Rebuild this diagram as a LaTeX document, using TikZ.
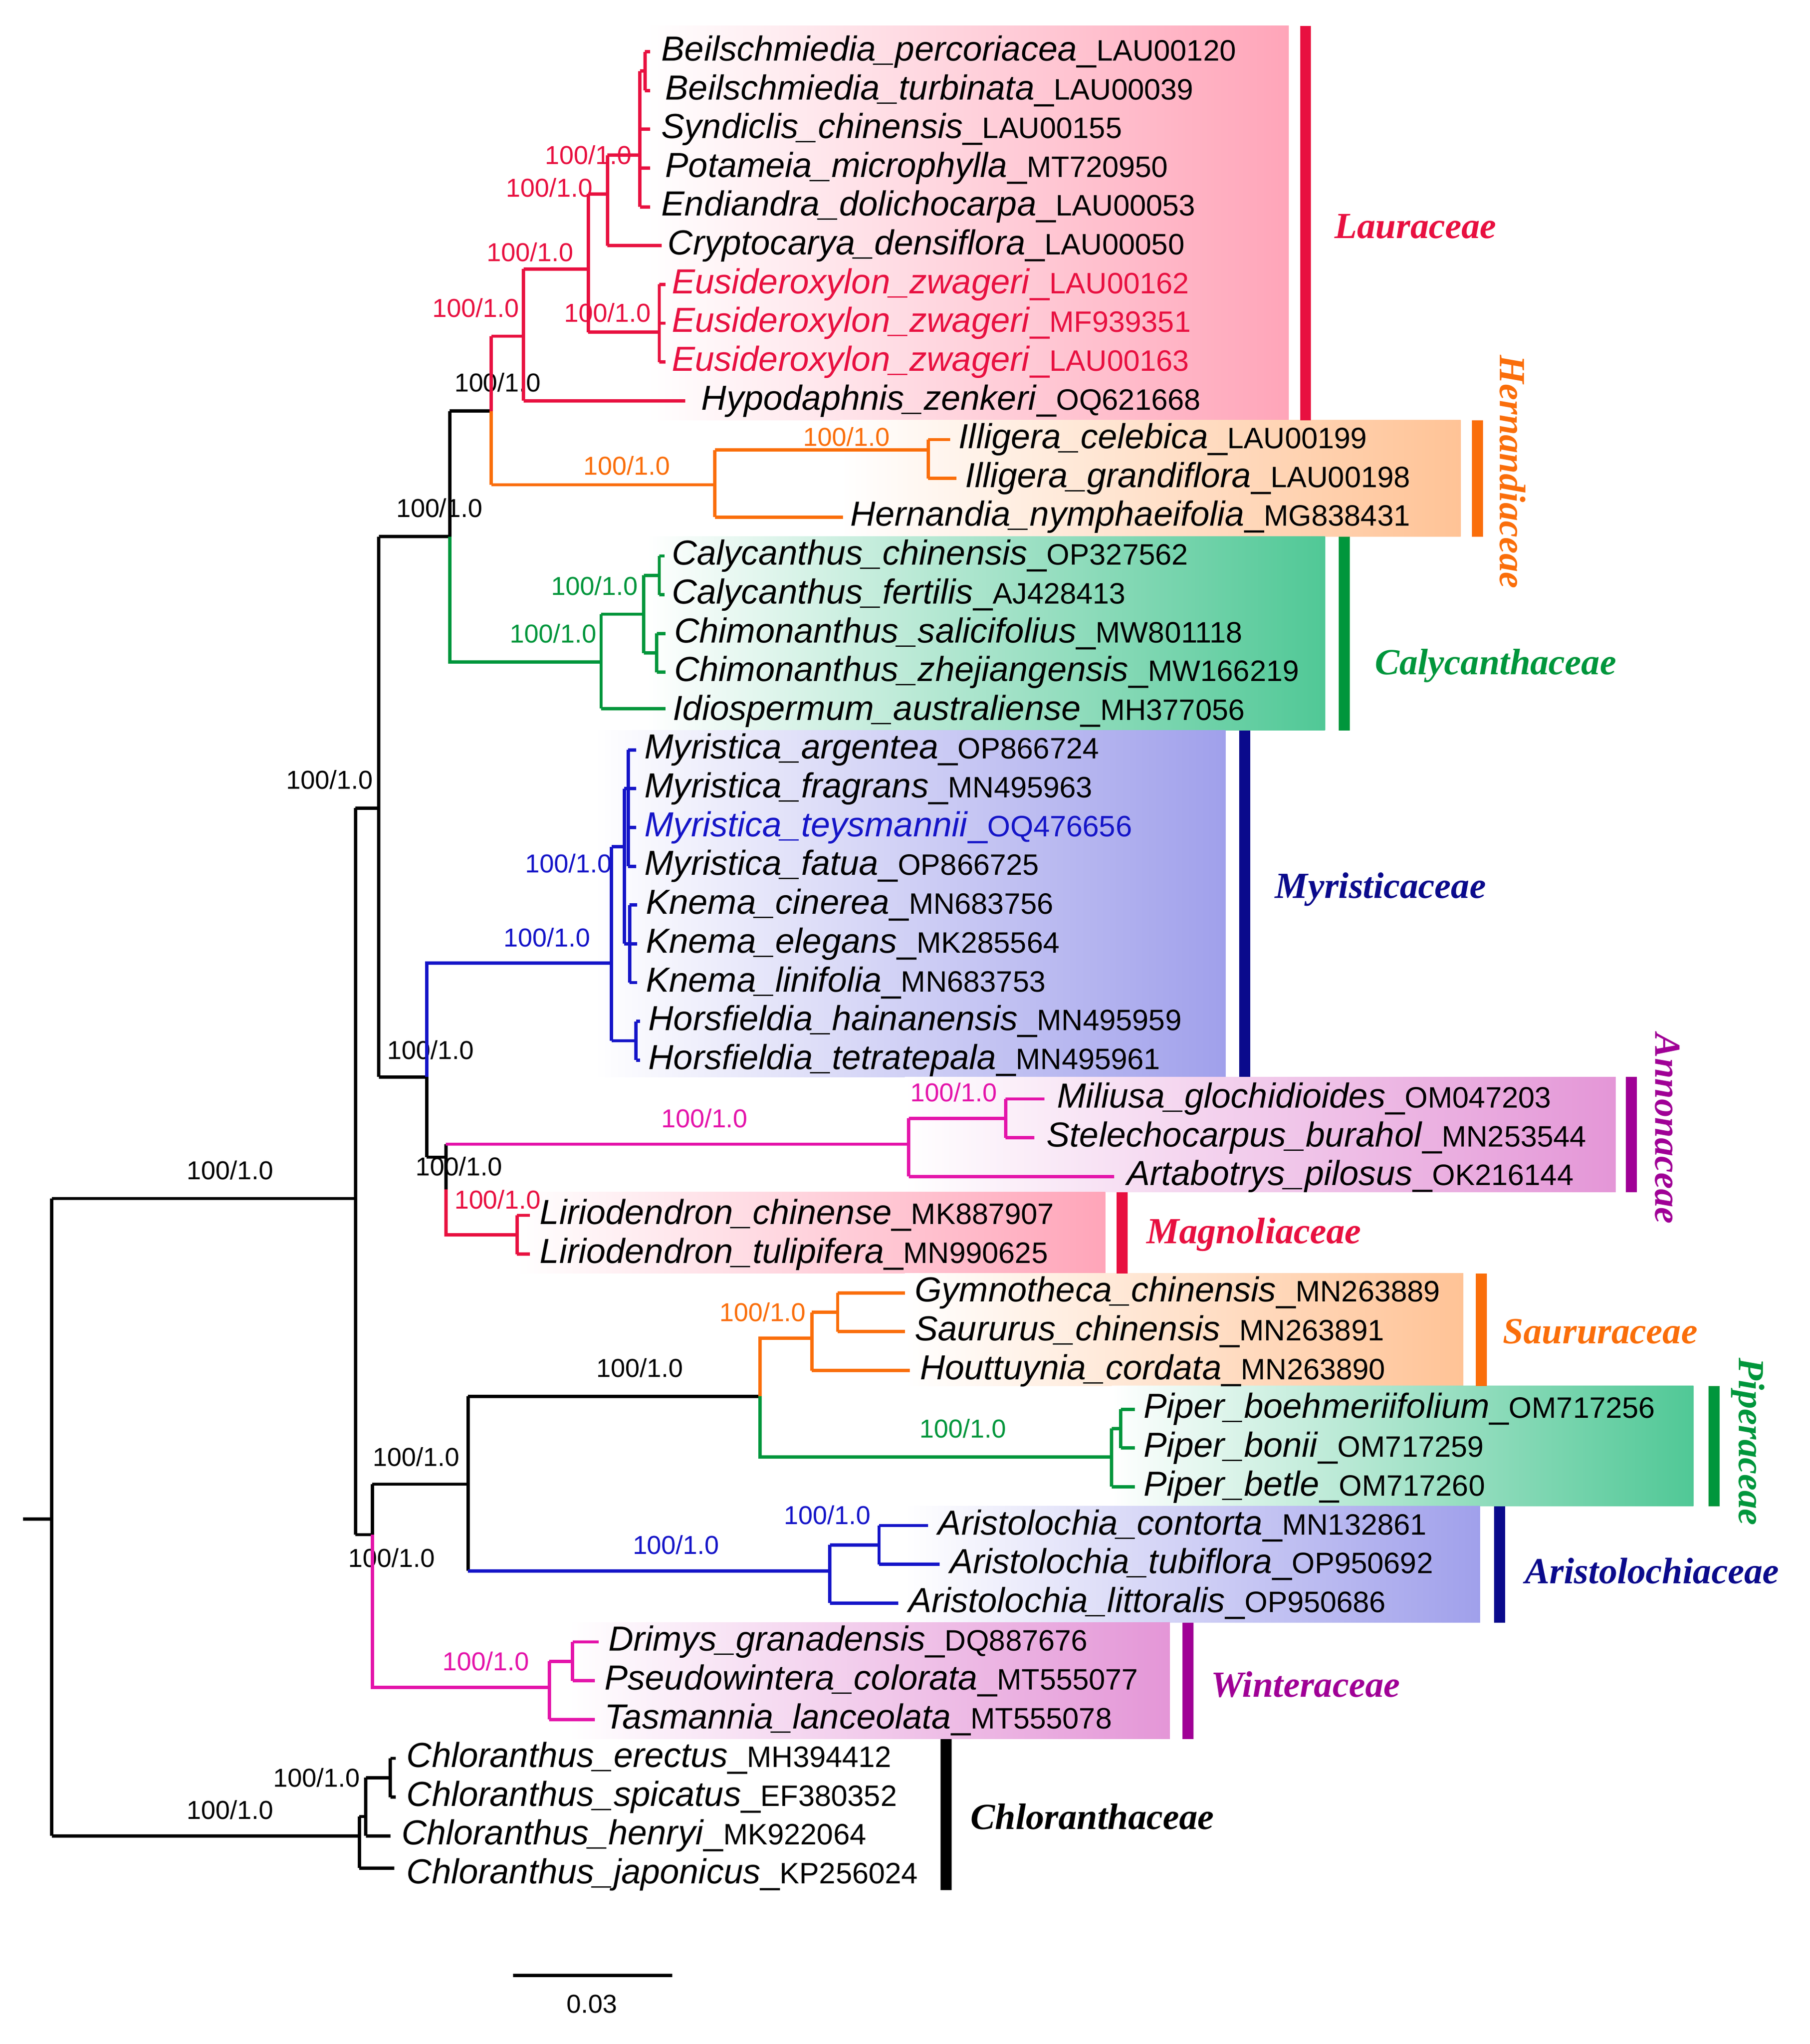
\documentclass[tikz,border=0pt]{standalone}
\usepackage{fontspec}
\setmainfont{Liberation Sans}
\newfontfamily\famfont{Liberation Serif}
\definecolor{cR}{RGB}{232,16,64}
\definecolor{cO}{RGB}{250,110,10}
\definecolor{cG}{RGB}{0,150,60}
\definecolor{cB}{RGB}{20,20,200}
\definecolor{cN}{RGB}{10,10,140}
\definecolor{cM}{RGB}{228,20,170}
\definecolor{cP}{RGB}{160,0,150}
\definecolor{bR}{RGB}{255,165,185}
\definecolor{bO}{RGB}{255,195,150}
\definecolor{bG}{RGB}{80,200,150}
\definecolor{bB}{RGB}{160,160,235}
\definecolor{bM}{RGB}{228,150,215}
\tikzset{br/.style={line width=0.72pt},
 leaf/.style={anchor=west,inner sep=0pt,font=\fontsize{7.65}{8}\selectfont},
 sup/.style={inner sep=0pt,font=\fontsize{5.7}{6}\selectfont},
 fam/.style={inner sep=0pt,font=\famfont\bfseries\itshape\fontsize{8.1}{9}\selectfont},
 bar/.style={line width=2.4pt}}
\newcommand\hb[4]{\draw[br,#4] (#1,#3) -- (#2,#3);}
\newcommand\vb[4]{\draw[br,#4] (#1,#2) -- (#1,#3);}
\newcommand\lf[6]{\node[leaf,text=#6] (#1) at (#2,#3) {\textit{#4}\_{\fontsize{6.5}{7}\selectfont #5}};}
\begin{document}
\begin{tikzpicture}[x=0.01cm,y=-0.01cm]
\useasboundingbox (0,0) rectangle (1400,1581);
% boxes
\shade[left color=white,right color=bR] (500,20) rectangle (997,325);
\shade[left color=white,right color=bO] (650,325) rectangle (1130,415);
\shade[left color=white,right color=bG] (500,415) rectangle (1025,565);
\shade[left color=white,right color=bB] (460,565) rectangle (948,833);
\shade[left color=white,right color=bM] (700,833) rectangle (1250,922);
\shade[left color=white,right color=bR] (400,922) rectangle (855,985);
\shade[left color=white,right color=bO] (700,985) rectangle (1132,1072);
\shade[left color=white,right color=bG] (860,1072) rectangle (1310,1165);
\shade[left color=white,right color=bB] (700,1165) rectangle (1145,1255);
\shade[left color=white,right color=bM] (440,1255) rectangle (905,1345);
% bars and family labels
\draw[bar,cR] (1010,20) -- (1010,325); \node[fam,text=cR] (fLau) at (1095,175) {Lauraceae};
\draw[bar,cO] (1143,325) -- (1143,415); \node[fam,text=cO,rotate=-90] (fHer) at (1170,365) {Hernandiaceae};
\draw[bar,cG] (1040,415) -- (1040,565); \node[fam,text=cG] (fCal) at (1157,515) {Calycanthaceae};
\draw[bar,cN] (963,565) -- (963,833); \node[fam,text=cN] (fMyr) at (1068,688) {Myristicaceae};
\draw[bar,cP] (1262,833) -- (1262,922); \node[fam,text=cP,rotate=-90] (fAnn) at (1290,873) {Annonaceae};
\draw[bar,cR] (868,922) -- (868,985); \node[fam,text=cR] (fMag) at (970,955) {Magnoliaceae};
\draw[bar,cO] (1146,985) -- (1146,1072); \node[fam,text=cO] (fSau) at (1238,1030) {Saururaceae};
\draw[bar,cG] (1326,1072) -- (1326,1165); \node[fam,text=cG,rotate=-90] (fPip) at (1352,1115) {Piperaceae};
\draw[bar,cN] (1160,1165) -- (1160,1255); \node[fam,text=cN] (fAri) at (1278,1215) {Aristolochiaceae};
\draw[bar,cP] (919,1255) -- (919,1345); \node[fam,text=cP] (fWin) at (1010,1303) {Winteraceae};
\draw[bar,black] (732,1345) -- (732,1462); \node[fam] (fChl) at (845,1405) {Chloranthaceae};
% root and backbone (black)
\hb{18}{40}{1175}{black}
\vb{40}{927}{1420}{black}
\hb{40}{275}{927}{black} \node[sup] (s1) at (178,905) {100/1.0};
\hb{40}{278}{1420}{black} \node[sup] (s2) at (178,1400) {100/1.0};
\vb{275}{625}{1187}{black}
\hb{275}{293}{625}{black} \node[sup] (s3) at (255,603) {100/1.0};
\hb{275}{288}{1187}{black}
\vb{293}{415}{833}{black} \node[sup] (s4) at (340,393) {100/1.0};
\hb{293}{348}{415}{black}
\hb{293}{330}{833}{black}
\vb{348}{318}{512}{black}
\hb{348}{380}{318}{black} \node[sup] (s5) at (385,296) {100/1.0};
% Lauraceae + Hernandiaceae
\hb{380}{405}{260}{cR} \vb{380}{260}{318}{cR} \vb{380}{318}{375}{cO}
\node[sup,text=cR] (s6) at (368,238) {100/1.0};
\hb{380}{553}{375}{cO} \node[sup,text=cO] (s7) at (485,360) {100/1.0};
\vb{405}{208}{310}{cR} \node[sup,text=cR] (s8) at (410,195) {100/1.0};
\hb{405}{455}{208}{cR} \hb{405}{530}{310}{cR}
\vb{455}{150}{257}{cR} \node[sup,text=cR] (s9) at (425,145) {100/1.0};
\hb{455}{470}{150}{cR} \hb{455}{510}{257}{cR}
\vb{470}{120}{190}{cR} \node[sup,text=cR] (s10) at (455,120) {100/1.0};
\hb{470}{495}{120}{cR} \hb{470}{512}{190}{cR}
\vb{495}{55}{160}{cR}
\hb{495}{499}{55}{cR} \vb{499}{40}{70}{cR} \hb{499}{503}{40}{cR} \hb{499}{503}{70}{cR}
\hb{495}{503}{100}{cR} \hb{495}{503}{130}{cR} \hb{495}{503}{160}{cR}
\vb{510}{220}{280}{cR} \node[sup,text=cR] (s11) at (470,242) {100/1.0};
\hb{510}{515}{220}{cR} \hb{510}{515}{250}{cR} \hb{510}{515}{280}{cR}
\vb{553}{348}{400}{cO} \hb{553}{718}{348}{cO} \hb{553}{652}{400}{cO}
\vb{718}{340}{370}{cO} \node[sup,text=cO] (s12) at (655,338) {100/1.0};
\hb{718}{735}{340}{cO} \hb{718}{740}{370}{cO}
% Calycanthaceae
\draw[br,cG] (348,415) -- (348,512) -- (465,512);
\vb{465}{475}{548}{cG} \node[sup,text=cG] (s13) at (428,490) {100/1.0};
\hb{465}{498}{475}{cG} \hb{465}{515}{548}{cG}
\vb{498}{445}{505}{cG} \node[sup,text=cG] (s14) at (460,453) {100/1.0};
\hb{498}{510}{445}{cG} \hb{498}{508}{505}{cG}
\vb{510}{430}{460}{cG} \hb{510}{514}{430}{cG} \hb{510}{514}{460}{cG}
\vb{508}{490}{520}{cG} \hb{508}{515}{490}{cG} \hb{508}{515}{520}{cG}
% node 330
\vb{330}{745}{895}{black} \node[sup] (s15) at (333,812) {100/1.0};
\hb{330}{345}{895}{black}
% Myristicaceae
\draw[br,cB] (330,833) -- (330,745) -- (473,745); \node[sup,text=cB] (s16) at (423,725) {100/1.0};
\vb{473}{655}{805}{cB} \hb{473}{483}{655}{cB} \hb{473}{492}{805}{cB}
\vb{483}{610}{730}{cB} \node[sup,text=cB] (s17) at (440,668) {100/1.0};
\hb{483}{486}{610}{cB} \hb{483}{487}{730}{cB}
\vb{486}{580}{670}{cB}
\foreach \yy in {580,610,640,670} {\hb{486}{492}{\yy}{cB}}
\vb{487}{700}{760}{cB}
\foreach \yy in {700,730,760} {\hb{487}{493}{\yy}{cB}}
\vb{492}{790}{820}{cB} \hb{492}{495}{790}{cB} \hb{492}{495}{820}{cB}
% Annonaceae + Magnoliaceae
\vb{345}{885}{955}{black} \node[sup] (s18) at (355,902) {100/1.0};
\hb{345}{703}{885}{cM} \node[sup,text=cM] (s19) at (545,865) {100/1.0};
\vb{703}{865}{910}{cM} \hb{703}{778}{865}{cM} \hb{703}{862}{910}{cM}
\vb{778}{850}{880}{cM} \node[sup,text=cM] (s20) at (738,845) {100/1.0};
\hb{778}{808}{850}{cM} \hb{778}{800}{880}{cM}
\draw[br,cR] (345,920) -- (345,955) -- (400,955); \node[sup,text=cR] (s21) at (385,928) {100/1.0};
\vb{400}{940}{970}{cR} \hb{400}{410}{940}{cR} \hb{400}{410}{970}{cR}
% lower clade
\vb{288}{1148}{1187}{black} \node[sup] (s22) at (322,1127) {100/1.0};
\node[sup] (s23) at (303,1205) {100/1.0};
\draw[br,cM] (288,1187) -- (288,1305) -- (425,1305);
\hb{288}{362}{1148}{black}
\vb{362}{1080}{1215}{black} \node[sup] (s24) at (495,1058) {100/1.0};
\hb{362}{588}{1080}{black}
\hb{362}{642}{1215}{cB} \node[sup,text=cB] (s25) at (523,1195) {100/1.0};
\draw[br,cO] (588,1080) -- (588,1035) -- (628,1035); \node[sup,text=cO] (s26) at (590,1015) {100/1.0};
\draw[br,cG] (588,1080) -- (588,1127) -- (860,1127); \node[sup,text=cG] (s27) at (745,1105) {100/1.0};
\vb{628}{1015}{1060}{cO} \hb{628}{648}{1015}{cO} \hb{628}{704}{1060}{cO}
\vb{648}{1000}{1030}{cO} \hb{648}{700}{1000}{cO} \hb{648}{700}{1030}{cO}
\vb{860}{1105}{1150}{cG} \hb{860}{867}{1105}{cG} \hb{860}{878}{1150}{cG}
\vb{867}{1090}{1120}{cG} \hb{867}{878}{1090}{cG} \hb{867}{878}{1120}{cG}
\vb{642}{1195}{1240}{cB} \node[sup,text=cB] (s28) at (640,1172) {100/1.0};
\hb{642}{680}{1195}{cB} \hb{642}{695}{1240}{cB}
\vb{680}{1180}{1210}{cB} \hb{680}{718}{1180}{cB} \hb{680}{727}{1210}{cB}
\vb{425}{1285}{1330}{cM} \node[sup,text=cM] (s29) at (376,1285) {100/1.0};
\hb{425}{443}{1285}{cM} \hb{425}{460}{1330}{cM}
\vb{443}{1270}{1300}{cM} \hb{443}{463}{1270}{cM} \hb{443}{460}{1300}{cM}
% Chloranthaceae
\vb{278}{1405}{1445}{black} \hb{278}{305}{1445}{black}
\hb{278}{283}{1405}{black}
\vb{283}{1375}{1420}{black} \hb{283}{302}{1420}{black} \node[sup] (s30) at (245,1375) {100/1.0};
\hb{283}{302}{1375}{black}
\vb{302}{1360}{1390}{black} \hb{302}{306}{1360}{black} \hb{302}{306}{1390}{black}
% leaves
\lf{l1}{511}{40}{Beilschmiedia\_percoriacea}{LAU00120}{black}
\lf{l2}{514}{70}{Beilschmiedia\_turbinata}{LAU00039}{black}
\lf{l3}{511}{100}{Syndiclis\_chinensis}{LAU00155}{black}
\lf{l4}{514}{130}{Potameia\_microphylla}{MT720950}{black}
\lf{l5}{511}{160}{Endiandra\_dolichocarpa}{LAU00053}{black}
\lf{l6}{516}{190}{Cryptocarya\_densiflora}{LAU00050}{black}
\lf{l7}{519}{220}{Eusideroxylon\_zwageri}{LAU00162}{cR}
\lf{l8}{519}{250}{Eusideroxylon\_zwageri}{MF939351}{cR}
\lf{l9}{519}{280}{Eusideroxylon\_zwageri}{LAU00163}{cR}
\lf{l10}{542}{310}{Hypodaphnis\_zenkeri}{OQ621668}{black}
\lf{l11}{741}{340}{Illigera\_celebica}{LAU00199}{black}
\lf{l12}{746}{370}{Illigera\_grandiflora}{LAU00198}{black}
\lf{l13}{657}{400}{Hernandia\_nymphaeifolia}{MG838431}{black}
\lf{l14}{519}{430}{Calycanthus\_chinensis}{OP327562}{black}
\lf{l15}{519}{460}{Calycanthus\_fertilis}{AJ428413}{black}
\lf{l16}{521}{490}{Chimonanthus\_salicifolius}{MW801118}{black}
\lf{l17}{521}{520}{Chimonanthus\_zhejiangensis}{MW166219}{black}
\lf{l18}{520}{550}{Idiospermum\_australiense}{MH377056}{black}
\lf{l19}{498}{580}{Myristica\_argentea}{OP866724}{black}
\lf{l20}{498}{610}{Myristica\_fragrans}{MN495963}{black}
\lf{l21}{498}{640}{Myristica\_teysmannii}{OQ476656}{cB}
\lf{l22}{498}{670}{Myristica\_fatua}{OP866725}{black}
\lf{l23}{499}{700}{Knema\_cinerea}{MN683756}{black}
\lf{l24}{499}{730}{Knema\_elegans}{MK285564}{black}
\lf{l25}{499}{760}{Knema\_linifolia}{MN683753}{black}
\lf{l26}{501}{790}{Horsfieldia\_hainanensis}{MN495959}{black}
\lf{l27}{501}{820}{Horsfieldia\_tetratepala}{MN495961}{black}
\lf{l28}{817}{850}{Miliusa\_glochidioides}{OM047203}{black}
\lf{l29}{809}{880}{Stelechocarpus\_burahol}{MN253544}{black}
\lf{l30}{871}{910}{Artabotrys\_pilosus}{OK216144}{black}
\lf{l31}{417}{940}{Liriodendron\_chinense}{MK887907}{black}
\lf{l32}{417}{970}{Liriodendron\_tulipifera}{MN990625}{black}
\lf{l33}{707}{1000}{Gymnotheca\_chinensis}{MN263889}{black}
\lf{l34}{707}{1030}{Saururus\_chinensis}{MN263891}{black}
\lf{l35}{711}{1060}{Houttuynia\_cordata}{MN263890}{black}
\lf{l36}{884}{1090}{Piper\_boehmeriifolium}{OM717256}{black}
\lf{l37}{884}{1120}{Piper\_bonii}{OM717259}{black}
\lf{l38}{884}{1150}{Piper\_betle}{OM717260}{black}
\lf{l39}{725}{1180}{Aristolochia\_contorta}{MN132861}{black}
\lf{l40}{734}{1210}{Aristolochia\_tubiflora}{OP950692}{black}
\lf{l41}{702}{1240}{Aristolochia\_littoralis}{OP950686}{black}
\lf{l42}{470}{1270}{Drimys\_granadensis}{DQ887676}{black}
\lf{l43}{467}{1300}{Pseudowintera\_colorata}{MT555077}{black}
\lf{l44}{467}{1330}{Tasmannia\_lanceolata}{MT555078}{black}
\lf{l45}{314}{1360}{Chloranthus\_erectus}{MH394412}{black}
\lf{l46}{314}{1390}{Chloranthus\_spicatus}{EF380352}{black}
\lf{l47}{310}{1420}{Chloranthus\_henryi}{MK922064}{black}
\lf{l48}{314}{1450}{Chloranthus\_japonicus}{KP256024}{black}
% scale bar
\coordinate (sbA) at (397,1528); \coordinate (sbB) at (520,1528);
\draw[br] (sbA) -- (sbB);
\node[sup] (sbl) at (458,1550) {0.03};
\end{tikzpicture}
\end{document}
